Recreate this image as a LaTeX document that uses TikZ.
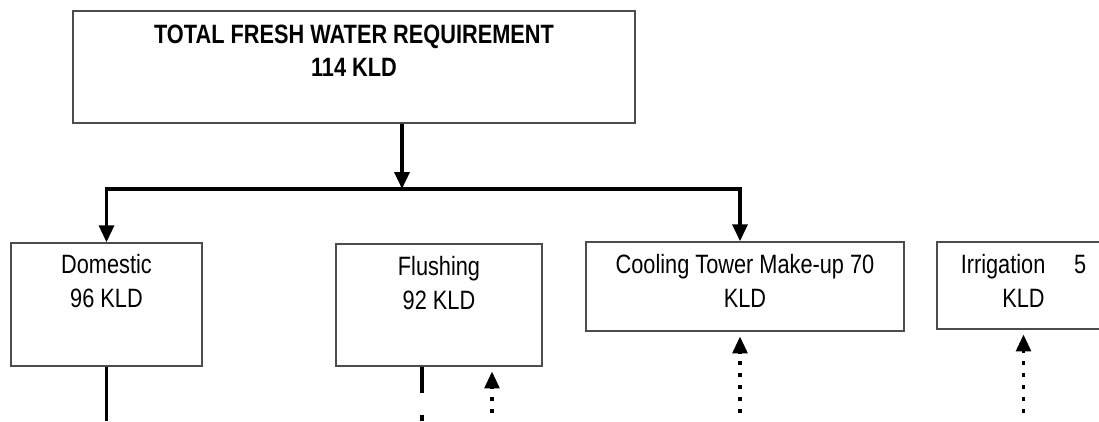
\documentclass[tikz,border=0pt]{standalone}
\usepackage{fontspec}
\setmainfont{Liberation Sans}[FakeStretch=0.82]
\usetikzlibrary{arrows.meta}
\newcommand{\kldfont}{\fontsize{18.86}{23.8}\selectfont}
\tikzset{
  box/.style={draw=black!70, line width=1pt, inner sep=0pt},
  txt/.style={align=center, inner sep=0pt, anchor=north, font=\kldfont},
  feed/.style={line width=2.6pt, -{Triangle[length=12pt,width=10.5pt]}},
  drain/.style={line width=2.8pt},
  recycle/.style={line width=2.4pt, dash pattern=on 0.1cm off 0.2cm, dash phase=0.1cm,
    shorten >=0.12cm, -{Triangle[length=12pt,width=10.5pt]}}
}
\begin{document}
\begin{tikzpicture}
\useasboundingbox (0,0) rectangle (27.475,-10.525);
\clip (0,0) rectangle (27.475,-10.525);
%BOXES
\node[box, minimum width=14.05cm, minimum height=2.8cm] (total) at (8.85,-1.675) {};
\node[txt, font=\kldfont\bfseries] (totaltxt) at ([yshift=-0.35cm]total.north) {TOTAL FRESH WATER REQUIREMENT\\114 KLD};
\node[box, minimum width=4.775cm, minimum height=3.075cm] (domestic) at (2.6625,-7.6125) {};
\node[txt] (domestictxt) at ([yshift=-0.3cm]domestic.north) {Domestic\\96 KLD};
\node[box, minimum width=5.15cm, minimum height=3.05cm] (flushing) at (10.975,-7.625) {};
\node[txt] (flushingtxt) at ([yshift=-0.325cm]flushing.north) {Flushing\\92 KLD};
\node[box, minimum width=7.95cm, minimum height=2.225cm] (cooling) at (18.625,-7.1625) {};
\node[txt] (coolingtxt) at ([yshift=-0.325cm]cooling.north) {Cooling Tower Make-up 70\\KLD};
\node[box, minimum width=4.325cm, minimum height=2.175cm] (irrigation) at (25.5875,-7.1375) {};
\node[txt] (irrigationtxt) at ([yshift=-0.325cm]irrigation.north) {Irrigation\hspace{0.72cm}5\\KLD};
%HELPER POINTS
\coordinate (split) at (10.05,-4.725);
\coordinate (bottom) at (0,-10.525);
\coordinate (coolin) at ([xshift=-0.125cm]cooling.north);
\coordinate (coolret) at ([xshift=-0.125cm]cooling.south);
\coordinate (flushout) at ([xshift=-0.425cm]flushing.south);
\coordinate (flushin) at ([xshift=1.325cm]flushing.south);
%TOTAL to split
\draw[feed] (total.south -| split) -- (split);
%split to Domestic and Cooling
\draw[line width=2.6pt, {Triangle[length=12pt,width=10.5pt]}-{Triangle[length=12pt,width=10.5pt]}] (domestic.north) |- (split) -| (coolin);
%outlets
\draw[drain] (domestic.south) -- (domestic.south |- bottom);
\draw[drain, dash pattern=on 0.65cm off 0.55cm] (flushout) -- (flushout |- bottom);
%returns
\draw[recycle] (flushin |- bottom) -- (flushin);
\draw[recycle] (coolret |- bottom) -- (coolret);
\draw[recycle] (irrigation.south |- bottom) -- (irrigation.south);
\end{tikzpicture}
\end{document}
